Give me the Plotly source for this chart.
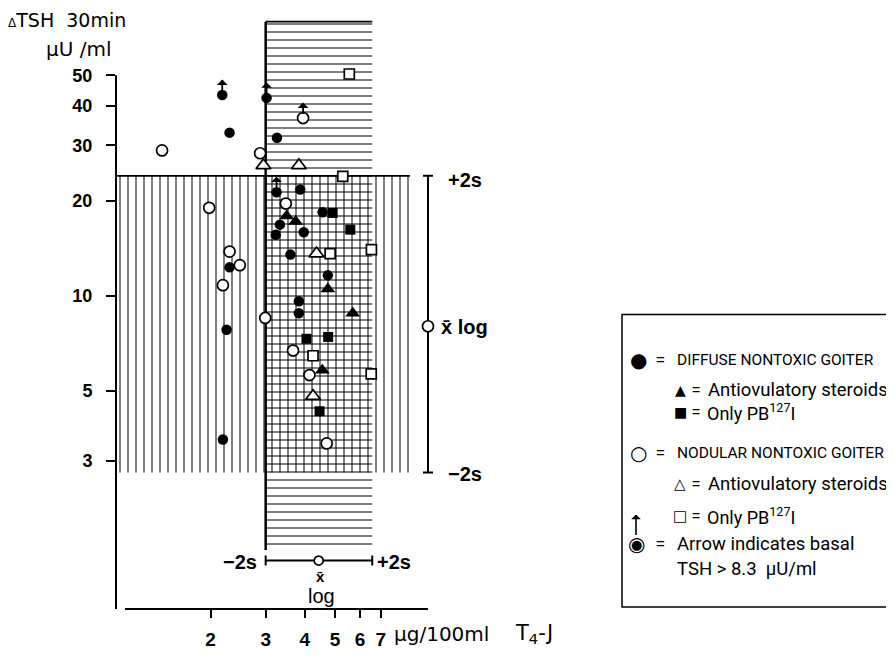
import math
import plotly.graph_objects as go

# ------------------------------------------------------------------ data
# T4-J (µg/100 ml) vs. delta TSH 30 min (µU/ml)
# Diffuse nontoxic goiter
DIFF_CIRCLE_X = [2.18, 2.30, 3.02, 3.26, 3.25, 3.87, 4.56, 3.33, 3.97, 3.23, 3.60, 2.30, 4.74, 3.83, 3.83, 2.25, 2.19]
DIFF_CIRCLE_Y = [43.3, 32.9, 42.4, 31.7, 21.3, 21.7, 18.4, 16.8, 15.9, 15.6, 13.5, 12.3, 11.6, 9.6, 8.8, 7.8, 3.5]
DIFF_CIRCLE_ARROW = [True, False, True, False, True, False, False, False, False, False, False, False, False, False, False, False, False]
DIFF_TRI_X = [3.50, 3.74, 4.74, 5.69, 4.55]
DIFF_TRI_Y = [17.9, 17.2, 10.5, 8.8, 5.8]
DIFF_SQ_X = [4.91, 5.59, 4.05, 4.75, 4.46]
DIFF_SQ_Y = [18.3, 16.2, 7.3, 7.4, 4.3]
# Nodular nontoxic goiter
NOD_CIRCLE_X = [1.40, 2.88, 3.95, 3.48, 1.98, 2.30, 2.48, 2.19, 2.99, 3.67, 4.14, 4.70]
NOD_CIRCLE_Y = [28.9, 28.3, 36.6, 19.6, 19.0, 13.8, 12.5, 10.8, 8.5, 6.7, 5.6, 3.4]
NOD_CIRCLE_ARROW = [False, False, True, False, False, False, False, False, False, False, False, False]
NOD_TRI_X = [2.95, 3.83, 4.36, 4.25]
NOD_TRI_Y = [25.9, 25.9, 13.6, 4.8]
NOD_SQ_X = [5.55, 5.29, 4.82, 6.53, 4.25, 6.52]
NOD_SQ_Y = [50.5, 23.9, 13.6, 14.0, 6.45, 5.65]

# normal ranges (log mean +/- 2s)
T4_MEAN, T4_LO, T4_HI = 4.43, 3.0, 6.57
TSH_MEAN, TSH_LO, TSH_HI = 8.0, 2.75, 24.0

X_TICKS = [2, 3, 4, 5, 6, 7]
Y_TICKS = [3, 5, 10, 20, 30, 40, 50]

# ------------------------------------------------------------------ layout constants
OFF = 8                      # page body margin of the html page
W, H = 894 - OFF, 662 - OFF
ML, MR, MT, MB = 116 - OFF, 454, 20 - OFF, 46
X_RANGE = [-0.001, 1.034]          # log10
Y_RANGE = [0.0062, 1.8745]         # log10
H_HATCH_Y = [1.56, 74.0]           # vertical extent of the T4-normal band
V_HATCH_X = [10 ** X_RANGE[0], 8.67]  # horizontal extent of the TSH-normal band
TSH_BAR_X = 9.9
T4_BAR_Y = 1.445
PW, PH = W - ML - MR, H - MT - MB


def px(x):
    return (x - OFF - ML) / PW


def py(y):
    return (H - MB - (y - OFF)) / PH


def paper_y_of(v):
    return (math.log10(v) - Y_RANGE[0]) / (Y_RANGE[1] - Y_RANGE[0])


def paper_x_of(v):
    return (math.log10(v) - X_RANGE[0]) / (X_RANGE[1] - X_RANGE[0])


FONT = "Liberation Sans, Arial, sans-serif"
LFONT = "Roboto, Liberation Sans, sans-serif"
TFONT = "DejaVu Sans, sans-serif"
SYM = "DejaVu Sans"

fig = go.Figure()


def rect(x0, x1, y0, y1):
    return [x0, x1, x1, x0, x0], [y0, y0, y1, y1, y0]


# vertical hatching: TSH normal band
xs, ys = rect(V_HATCH_X[0], V_HATCH_X[1], TSH_LO, TSH_HI)
fig.add_trace(go.Scatter(x=xs, y=ys, mode="lines", line=dict(color="rgba(0,0,0,0)", width=0),
                         fill="toself", fillcolor="rgba(0,0,0,0)",
                         fillpattern=dict(shape="|", size=8, solidity=0.25, fgcolor="black",
                                          bgcolor="rgba(0,0,0,0)"),
                         hoverinfo="skip", showlegend=False))
# horizontal hatching: T4 normal band
xs, ys = rect(T4_LO, T4_HI, H_HATCH_Y[0], H_HATCH_Y[1])
fig.add_trace(go.Scatter(x=xs, y=ys, mode="lines", line=dict(color="rgba(0,0,0,0)", width=0),
                         fill="toself", fillcolor="rgba(0,0,0,0)",
                         fillpattern=dict(shape="-", size=8, solidity=0.25, fgcolor="black",
                                          bgcolor="rgba(0,0,0,0)"),
                         hoverinfo="skip", showlegend=False))
# borders of the bands
fig.add_trace(go.Scatter(x=[T4_LO, T4_LO], y=H_HATCH_Y, mode="lines",
                         line=dict(color="black", width=2.5), hoverinfo="skip", showlegend=False))
fig.add_trace(go.Scatter(x=[T4_LO, T4_HI], y=[H_HATCH_Y[1], H_HATCH_Y[1]], mode="lines",
                         line=dict(color="black", width=1.8), hoverinfo="skip", showlegend=False))
fig.add_trace(go.Scatter(x=V_HATCH_X, y=[TSH_HI, TSH_HI], mode="lines",
                         line=dict(color="black", width=1.8), hoverinfo="skip", showlegend=False))


def pts(x, y, symbol, filled, size):
    fig.add_trace(go.Scatter(
        x=x, y=y, mode="markers", cliponaxis=False, hoverinfo="skip", showlegend=False,
        marker=dict(symbol=symbol, size=size, color="black" if filled else "white",
                    line=dict(color="black", width=0 if filled else 1.7))))


pts(DIFF_CIRCLE_X, DIFF_CIRCLE_Y, "circle", True, 10.5)
pts(DIFF_TRI_X, DIFF_TRI_Y, "triangle-up", True, 13)
pts(DIFF_SQ_X, DIFF_SQ_Y, "square", True, 10)
pts(NOD_CIRCLE_X, NOD_CIRCLE_Y, "circle", False, 11)
pts(NOD_TRI_X, NOD_TRI_Y, "triangle-up", False, 13)
pts(NOD_SQ_X, NOD_SQ_Y, "square", False, 10)

# mean +/- 2s bars
fig.add_trace(go.Scatter(
    x=[TSH_BAR_X], y=[TSH_MEAN], mode="markers", cliponaxis=False, hoverinfo="skip", showlegend=False,
    marker=dict(symbol="circle", size=11, color="white", line=dict(color="black", width=1.7)),
    error_y=dict(type="data", symmetric=False, array=[TSH_HI - TSH_MEAN],
                 arrayminus=[TSH_MEAN - TSH_LO], color="black", thickness=2, width=5)))
fig.add_trace(go.Scatter(
    x=[T4_MEAN], y=[T4_BAR_Y], mode="markers", cliponaxis=False, hoverinfo="skip", showlegend=False,
    marker=dict(symbol="circle", size=9, color="white", line=dict(color="black", width=1.7)),
    error_x=dict(type="data", symmetric=False, array=[T4_HI - T4_MEAN],
                 arrayminus=[T4_MEAN - T4_LO], color="black", thickness=2, width=5)))

ann = []
# arrows for basal TSH > 8.3
for xs_, ys_, fl in [(DIFF_CIRCLE_X, DIFF_CIRCLE_Y, DIFF_CIRCLE_ARROW),
                     (NOD_CIRCLE_X, NOD_CIRCLE_Y, NOD_CIRCLE_ARROW)]:
    for x, y, f in zip(xs_, ys_, fl):
        if f:
            ann.append(dict(x=math.log10(x), y=math.log10(y), xref="x", yref="y", text="",
                            showarrow=True, ax=0, ay=-17, arrowside="start", arrowhead=2,
                            arrowsize=1, arrowwidth=1.8, arrowcolor="black", standoff=4))


def text(x, y, s, size=17, anchor="left", font=FONT, bold=False):
    ann.append(dict(x=px(x), y=py(y), xref="paper", yref="paper", text=s, showarrow=False,
                    xanchor=anchor, yanchor="middle",
                    font=dict(family=font, size=size, color="black",
                              weight="bold" if bold else "normal")))


# axis titles
text(6, 20, "<span style='font-size:12px'>Δ</span>TSH  30min", 19, font=TFONT)
text(44, 49, "μU /ml", 20, font=TFONT)
text(392, 641, "μg/100ml", 20, font=TFONT)
text(513, 641, "T<sub>4</sub>-J", 21, font=TFONT)
# +/- 2s labels
text(446, 182, "+2s", 20, bold=True)
text(439, 331, "x̄ log", 20, bold=True)
text(446, 479, "−2s", 20, bold=True)
text(259, 568, "−2s", 20, "right", bold=True)
text(375, 568, "+2s", 20, bold=True)
text(320, 583, "x̄", 15, "center", bold=True)
text(321, 603, "log", 20, "center")

# legend box
LU, LM = 15.5, 18.5
text(638, 364, "●", 20, "center", font=SYM)
text(660, 364, "=", 15, "center")
text(675, 364, "DIFFUSE NONTOXIC GOITER", LU, font=LFONT)
text(680, 394, "▲", 14, "center", font=SYM)
text(696, 394, "=", 14, "center")
text(706, 394, "Antiovulatory steroids", LM, font=LFONT)
text(680, 417, "■", 14, "center", font=SYM)
text(696, 417, "=", 14, "center")
text(705, 417, "Only PB<sup>127</sup>I", 18, font=LFONT)
text(638, 458, "○", 20, "center", font=SYM)
text(660, 458, "=", 15, "center")
text(675, 458, "NODULAR NONTOXIC GOITER", LU, font=LFONT)
text(680, 490, "△", 15, "center", font=SYM)
text(696, 490, "=", 14, "center")
text(706, 490, "Antiovulatory steroids", LM, font=LFONT)
text(680, 522, "□", 15, "center", font=SYM)
text(696, 522, "=", 14, "center")
text(705, 522, "Only PB<sup>127</sup>I", 18, font=LFONT)
text(636, 550, "◉", 20, "center", font=SYM)
text(660, 550, "=", 15, "center")
text(675, 550, "Arrow indicates basal", LM, font=LFONT)
text(675, 576, "TSH > 8.3  μU/ml", LM, font=LFONT)
ann.append(dict(x=px(636), y=py(541), xref="paper", yref="paper", text="", showarrow=True,
                ax=0, ay=-22, arrowside="start", arrowhead=2, arrowsize=1, arrowwidth=1.6,
                arrowcolor="black"))

shapes = [
    # detached axis lines
    dict(type="line", xref="paper", yref="paper", x0=0, x1=0, y0=0, y1=paper_y_of(50),
         line=dict(color="black", width=2)),
    dict(type="line", xref="paper", yref="paper", x0=px(125), x1=paper_x_of(TSH_BAR_X), y0=0, y1=0,
         line=dict(color="black", width=2)),
    # legend frame
    dict(type="rect", xref="paper", yref="paper", x0=px(622), x1=px(892), y0=py(614), y1=py(318),
         line=dict(color="black", width=1.5)),
]

fig.update_layout(
    width=W, height=H, autosize=False,
    margin=dict(l=ML, r=MR, t=MT, b=MB, pad=0),
    plot_bgcolor="white", paper_bgcolor="white",
    showlegend=False,
    annotations=ann, shapes=shapes,
    xaxis=dict(type="log", range=X_RANGE, tickvals=X_TICKS, ticktext=[str(v) for v in X_TICKS],
               ticks="outside", ticklen=8, tickwidth=2, tickcolor="black",
               showgrid=False, zeroline=False, showline=False, ticklabelstandoff=5,
               tickfont=dict(family=FONT, size=19, color="black", weight="bold")),
    yaxis=dict(type="log", range=Y_RANGE, tickvals=Y_TICKS, ticktext=[str(v) for v in Y_TICKS],
               ticks="outside", ticklen=9, tickwidth=2, tickcolor="black",
               showgrid=False, zeroline=False, showline=False, ticklabelstandoff=10,
               tickfont=dict(family=FONT, size=18, color="black", weight="bold")),
)

fig.write_html("out.html")
